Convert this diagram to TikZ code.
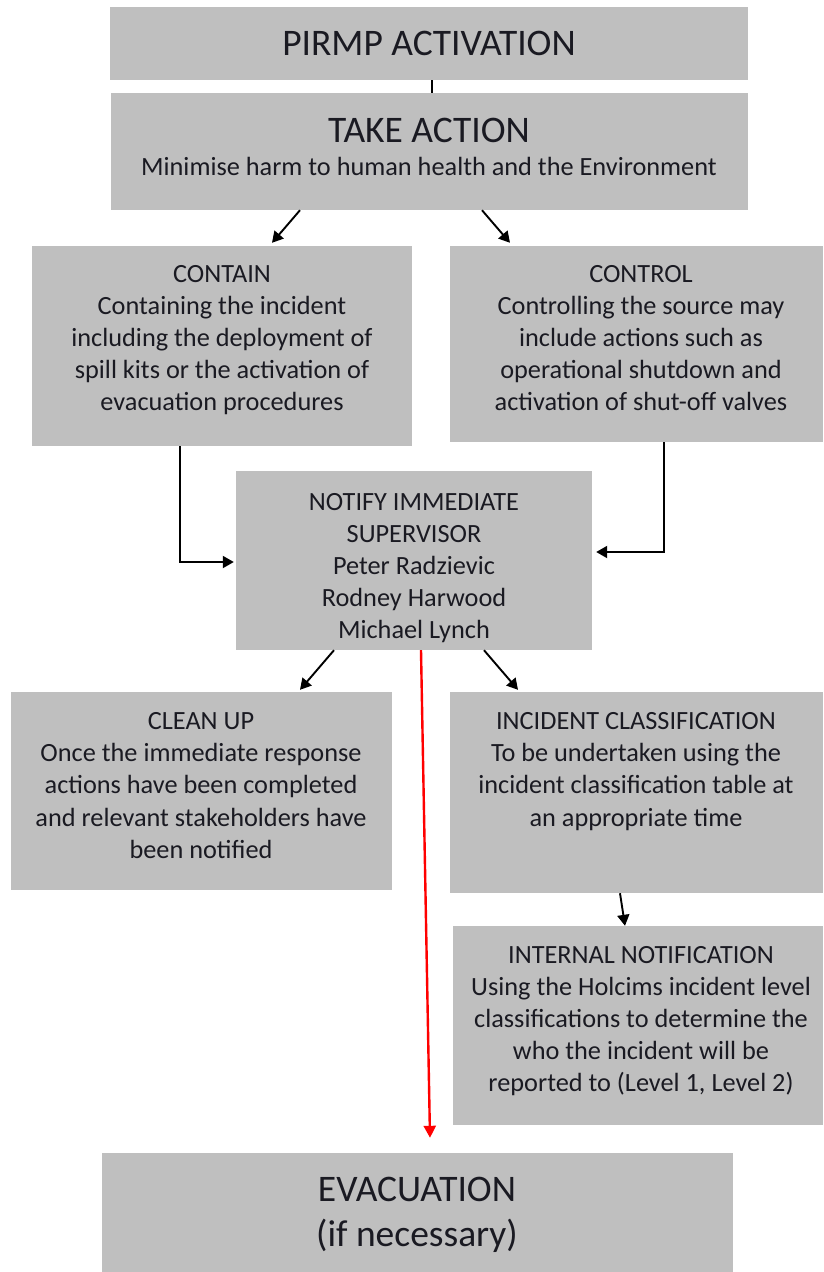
\documentclass[tikz,border=0pt]{standalone}
\usepackage{fontspec}
\setmainfont{Carlito}
\usetikzlibrary{arrows.meta,calc}
\definecolor{boxgray}{HTML}{BFBFBF}
\definecolor{txtc}{HTML}{1A1A22}
\definecolor{redline}{HTML}{FF0000}
\begin{document}
\begin{tikzpicture}[x=1pt,y=-1pt,
  gbox/.style={fill=boxgray,draw=none,inner sep=0pt,rectangle},
  bodytxt/.style={text=txtc,align=center,inner sep=0pt,font=\fontsize{26.3}{32.1}\selectfont},
  bigtxt/.style={text=txtc,align=center,inner sep=0pt,font=\fontsize{37.5}{45}\selectfont},
  arr/.style={draw=black,line width=1.9pt,-{Triangle[length=11pt,width=12pt]}},
  plainline/.style={draw=black,line width=1.9pt}]
\useasboundingbox (0,0) rectangle (823,1272);
% boxes
\node[gbox,minimum width=638pt,minimum height=73pt] (pirmp) at (429,43.5) {};
\node[gbox,minimum width=637pt,minimum height=117pt] (take) at (429.5,151.5) {};
\node[gbox,minimum width=380pt,minimum height=200pt] (contain) at (222,346) {};
\node[gbox,minimum width=373pt,minimum height=196pt] (control) at (636.5,344) {};
\node[gbox,minimum width=356pt,minimum height=179pt] (notify) at (414,560.5) {};
\node[gbox,minimum width=381pt,minimum height=198pt] (cleanup) at (201.5,791) {};
\node[gbox,minimum width=373pt,minimum height=201pt] (inccls) at (636.5,792.5) {};
\node[gbox,minimum width=370pt,minimum height=199pt] (internal) at (638,1025.5) {};
\node[gbox,minimum width=631pt,minimum height=119pt] (evac) at (417.5,1212.5) {};
% texts
\node[bigtxt] (pirmpT) at (429,43) {PIRMP ACTIVATION};
\node[bigtxt] (takeT) at (429,130) {TAKE ACTION};
\node[bodytxt] (takeS) at (429,166) {Minimise harm to human health and the Environment};
\node[bodytxt] (containT) at (222,340) {CONTAIN\\Containing the incident\\including the deployment of\\spill kits or the activation of\\evacuation procedures};
\node[bodytxt] (controlT) at (641,338) {CONTROL\\Controlling the source may\\include actions such as\\operational shutdown and\\activation of shut-off valves};
\node[bodytxt] (notifyT) at (414,568) {NOTIFY IMMEDIATE\\SUPERVISOR\\Peter Radzievic\\Rodney Harwood\\Michael Lynch};
\node[bodytxt] (cleanupT) at (201,785.5) {CLEAN UP\\Once the immediate response\\actions have been completed\\and relevant stakeholders have\\been notified};
\node[bodytxt] (incclsT) at (636,771.5) {INCIDENT CLASSIFICATION\\To be undertaken using the\\incident classification table at\\an appropriate time};
\node[bodytxt] (internalT) at (641,1021) {INTERNAL NOTIFICATION\\Using the Holcims incident level\\classifications to determine the\\who the incident will be\\reported to (Level 1, Level 2)};
\node[bigtxt] (evacT) at (417,1215) {EVACUATION\\(if necessary)};
% connectors
\draw[plainline] (pirmp.south -| 432,0) -- (take.north -| 432,0);
\draw[arr] (take.south -| 300,0) -- ($(contain.north -| 272,0)+(0,-3)$);
\draw[arr] (take.south -| 482,0) -- ($(control.north -| 510,0)+(0,-3)$);
\draw[arr] (contain.south -| 180,0) |- ($(notify.west |- 0,562)+(-2,0)$);
\draw[arr] (control.south -| 664,0) |- ($(notify.east |- 0,552)+(4,0)$);
\draw[arr] (notify.south -| 334,0) -- ($(cleanup.north -| 300,0)+(0,-2)$);
\draw[arr] (notify.south -| 484,0) -- ($(inccls.north -| 518,0)+(0,-2)$);
\draw[arr] (inccls.south -| 620,0) -- (internal.north -| 625,0);
\draw[draw=redline,line width=2.4pt,-{Triangle[length=12pt,width=12pt]}] (notify.south -| 421,0) -- ($(evac.north -| 430,0)+(0,-15)$);
\end{tikzpicture}
\end{document}
